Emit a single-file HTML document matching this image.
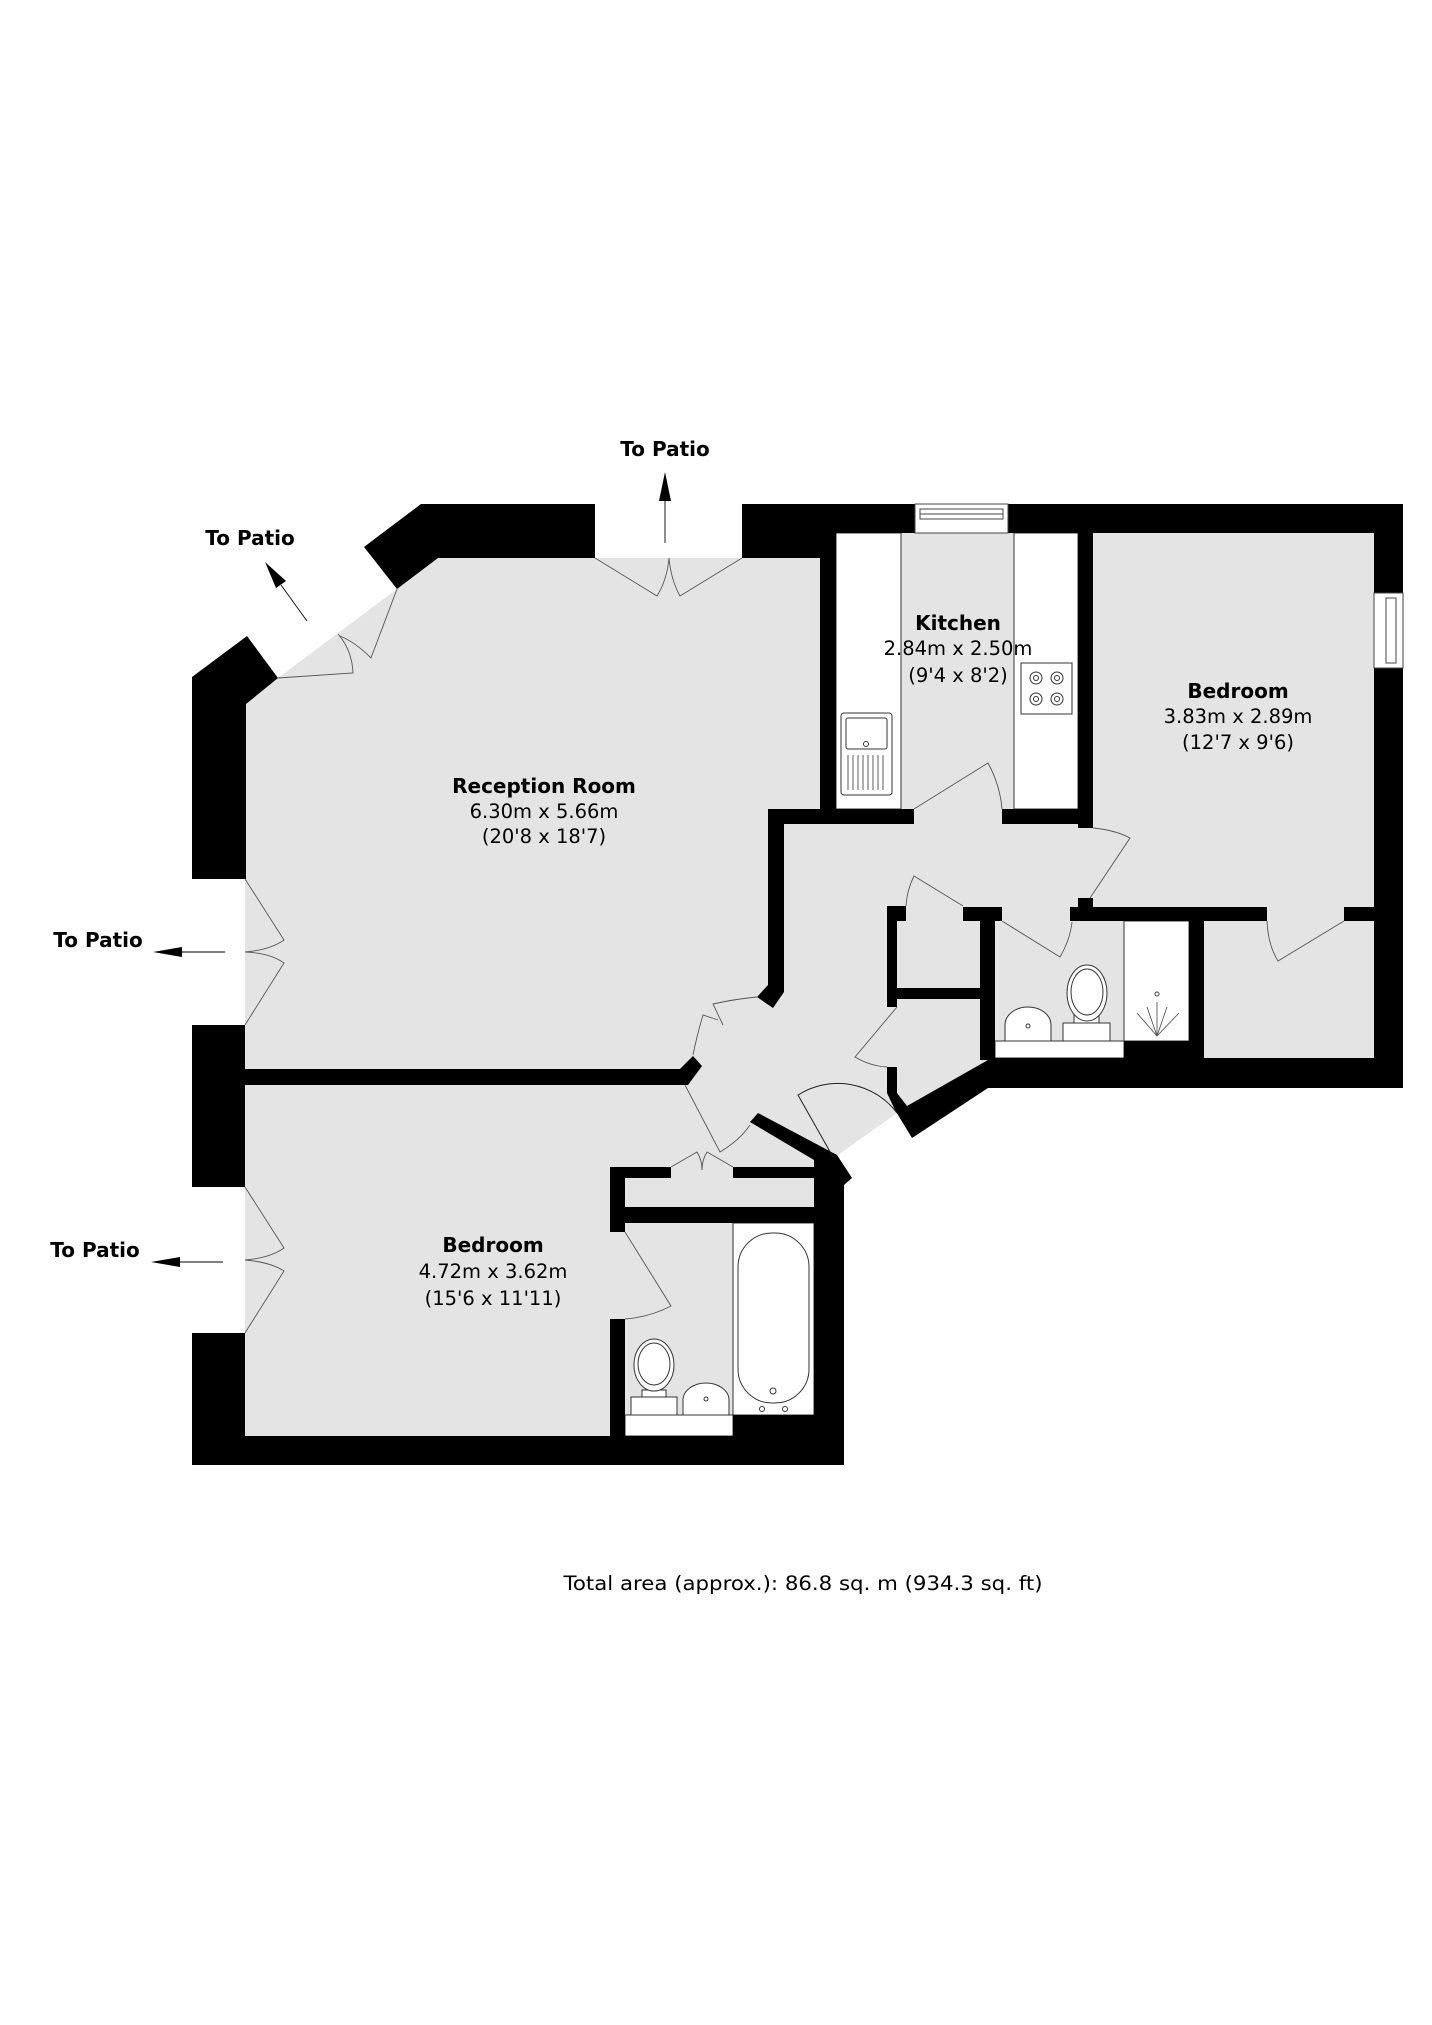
<!DOCTYPE html>
<html><head><meta charset="utf-8"><style>
html,body{margin:0;padding:0;background:#fff;}
svg{display:block;}
text{font-family:"DejaVu Sans","Liberation Sans",sans-serif;fill:#000;}
.b{font-weight:bold;font-size:20px;}
.r{font-size:19.5px;}
.d{fill:none;stroke:#555;stroke-width:0.9;}
.f{fill:#fff;stroke:#333;stroke-width:1;}
</style></head><body>
<svg width="1432" height="2025" viewBox="0 0 1432 2025" xmlns="http://www.w3.org/2000/svg">
<rect width="1432" height="2025" fill="#fff"/>
<!-- floor -->
<polygon fill="#e4e4e4" points="246,704 278,678 397,589 438,558 821,558 821,533 1374,533 1374,1058 988,1060 897,1113 838,1155 844,1178 844,1436 245,1436 245,704"/>
<!-- white fixtures -->
<rect class="f" x="836" y="533" width="65" height="276"/>
<rect class="f" x="1014" y="533" width="64" height="276"/>
<rect class="f" x="1124" y="921" width="65" height="120"/>
<rect class="f" x="995" y="1041" width="129" height="17"/>
<rect class="f" x="625" y="1415" width="108" height="21"/>
<rect class="f" x="733" y="1223" width="81" height="192"/>
<!-- walls -->
<g fill="#000">
<polygon points="364,547 421,504 595,504 595,558 438,558 397,589"/>
<polygon points="192,677 247,636 278,678 246,704 246,879 192,879"/>
<rect x="192" y="1025" width="53" height="162"/>
<rect x="192" y="1333" width="53" height="132"/>
<rect x="192" y="1436" width="652" height="29"/>
<polygon points="245,1069 680,1069 693,1056 702,1066 688,1085 245,1085"/>
<rect x="742" y="504" width="661" height="29"/>
<rect x="742" y="504" width="94" height="54"/>
<rect x="820" y="504" width="16" height="320"/>
<rect x="1374" y="504" width="29" height="584"/>
<rect x="988" y="1058" width="415" height="30"/>
<rect x="1078" y="533" width="15" height="295"/>
<rect x="768" y="809" width="146" height="15"/>
<rect x="1002" y="809" width="91" height="15"/>
<polygon points="768,809 784,809 784,992 773,1008 757,997 768,985"/>
<rect x="1078" y="898" width="15" height="12"/>
<rect x="1070" y="907" width="197" height="14"/>
<rect x="1344" y="907" width="30" height="14"/>
<rect x="887" y="906" width="19" height="15"/>
<rect x="887" y="906" width="10" height="101"/>
<rect x="897" y="988" width="83" height="11"/>
<rect x="963" y="907" width="39" height="14"/>
<rect x="980" y="907" width="15" height="153"/>
<rect x="1189" y="921" width="15" height="137"/>
<rect x="1124" y="1041" width="65" height="17"/>
<polygon points="887,1067 897,1067 897,1093 907,1106 988,1060 988,1088 912,1138 895,1110 887,1093"/>
<polygon points="750,1122 758,1113 837,1155 852,1178 844,1185 844,1465 814,1465 814,1160"/>
<rect x="610" y="1167" width="61" height="11"/>
<rect x="733" y="1167" width="81" height="11"/>
<rect x="610" y="1167" width="15" height="65"/>
<rect x="610" y="1207" width="204" height="16"/>
<rect x="610" y="1319" width="15" height="117"/>
<rect x="733" y="1415" width="81" height="21"/>
</g>
<!-- windows -->
<rect x="915" y="504" width="93" height="29" fill="#fff" stroke="#444" stroke-width="1"/>
<rect x="920" y="509" width="83" height="10" fill="none" stroke="#444" stroke-width="1"/>
<line x1="920" y1="514" x2="1003" y2="514" stroke="#444"/>
<rect x="1374" y="593" width="29" height="75" fill="#fff" stroke="#444" stroke-width="1"/>
<rect x="1386" y="598" width="10" height="65" fill="none" stroke="#444" stroke-width="1"/>
<!-- doors -->
<path class="d" d="M595 558 L657 596 Q667 580 669 558 M742 558 L680 596 Q671 580 669 558"/>
<path class="d" d="M278 678 L353 673 Q352 650 338 634 M397 589 L371 658 Q355 642 340 636"/>
<path class="d" d="M245 879 L284 940 Q270 950 245 952 M245 1025 L284 963 Q270 953 245 952"/>
<path class="d" d="M245 1187 L284 1248 Q270 1258 245 1260 M245 1333 L284 1271 Q270 1262 245 1260"/>
<path class="d" d="M914 809 L988 763 Q1000 785 1002 809"/>
<path class="d" d="M1093 828 Q1115 830 1130 838 L1090 898"/>
<path class="d" d="M963 906 L914 876 Q907 890 906 906"/>
<path class="d" d="M1002 921 L1060 957 Q1070 940 1072 922"/>
<path class="d" d="M897 1007 L855 1057 Q870 1066 887 1067"/>
<path class="d" d="M1344 921 L1278 961 Q1268 945 1267 921"/>
<path d="M833 1157 L798 1095 A74 74 0 0 1 897 1113" fill="none" stroke="#222" stroke-width="1"/>
<path class="d" d="M757 997 Q735 999 713 1004 L723 1025 M693 1055 Q697 1035 703 1015 L718 1020"/>
<path class="d" d="M685 1085 L720 1152 Q740 1140 750 1125"/>
<path class="d" d="M671 1167 L697 1152 Q702 1160 702 1170 M733 1167 L707 1152 Q702 1160 702 1170"/>
<path class="d" d="M625 1232 L671 1306 Q650 1317 625 1319"/>
<!-- kitchen fixtures -->
<rect x="841" y="713" width="51" height="82" rx="3" fill="#fff" stroke="#333"/>
<rect x="846" y="718" width="41" height="31" rx="2" fill="none" stroke="#333"/>
<circle cx="866" cy="744" r="2.5" fill="none" stroke="#333"/>
<g stroke="#333" stroke-width="0.8"><line x1="848" y1="755" x2="848" y2="790"/><line x1="853" y1="755" x2="853" y2="790"/><line x1="858" y1="755" x2="858" y2="790"/><line x1="863" y1="755" x2="863" y2="790"/><line x1="868" y1="755" x2="868" y2="790"/><line x1="873" y1="755" x2="873" y2="790"/><line x1="878" y1="755" x2="878" y2="790"/><line x1="883" y1="755" x2="883" y2="790"/></g>
<rect x="1021" y="663" width="51" height="51" fill="#fff" stroke="#333"/>
<g fill="none" stroke="#333"><circle cx="1036" cy="678" r="6"/><circle cx="1057" cy="678" r="6"/><circle cx="1036" cy="699" r="6"/><circle cx="1057" cy="699" r="6"/><circle cx="1036" cy="678" r="2.5"/><circle cx="1057" cy="678" r="2.5"/><circle cx="1036" cy="699" r="2.5"/><circle cx="1057" cy="699" r="2.5"/></g>
<!-- WC east -->
<rect x="1063" y="1023" width="47" height="18" fill="#fff" stroke="#333"/>
<rect x="1074" y="1015" width="25" height="8" fill="#fff" stroke="#333"/>
<ellipse cx="1087" cy="993" rx="20" ry="28" fill="#fff" stroke="#333"/>
<ellipse cx="1087" cy="992" rx="16" ry="23" fill="none" stroke="#333"/>
<path d="M1005 1041 L1005 1025 A23 18 0 0 1 1051 1025 L1051 1041 Z" fill="#fff" stroke="#333"/>
<circle cx="1028" cy="1026" r="2" fill="none" stroke="#333"/>
<g stroke="#444" stroke-width="0.8"><line x1="1157" y1="1036" x2="1137" y2="1013"/><line x1="1157" y1="1036" x2="1147" y2="1007"/><line x1="1157" y1="1036" x2="1157" y2="1002"/><line x1="1157" y1="1036" x2="1167" y2="1007"/><line x1="1157" y1="1036" x2="1179" y2="1013"/></g>
<circle cx="1157" cy="994" r="2" fill="none" stroke="#444"/>
<!-- ensuite -->
<rect x="738" y="1233" width="71" height="170" rx="34" fill="#fff" stroke="#333"/>
<circle cx="773" cy="1391" r="3" fill="none" stroke="#333"/>
<circle cx="762" cy="1409" r="2.5" fill="none" stroke="#333"/><circle cx="785" cy="1409" r="2.5" fill="none" stroke="#333"/>
<rect x="631" y="1397" width="46" height="18" fill="#fff" stroke="#333"/>
<rect x="642" y="1390" width="24" height="7" fill="#fff" stroke="#333"/>
<ellipse cx="654" cy="1365" rx="20" ry="26" fill="#fff" stroke="#333"/>
<ellipse cx="654" cy="1364" rx="16" ry="21" fill="none" stroke="#333"/>
<path d="M683 1415 L683 1400 A23 17 0 0 1 729 1400 L729 1415 Z" fill="#fff" stroke="#333"/>
<circle cx="706" cy="1399" r="2" fill="none" stroke="#333"/>
<!-- arrows -->
<g stroke="#000" stroke-width="0.9">
<line x1="665" y1="543" x2="665" y2="500"/>
<line x1="307" y1="621" x2="281" y2="585"/>
<line x1="225" y1="952" x2="182" y2="952"/>
<line x1="223" y1="1262" x2="180" y2="1262"/>
</g>
<g fill="#000">
<polygon points="665,472 659,501 671,501"/>
<polygon points="265,562 276,588 286,581"/>
<polygon points="153,952 182,947 182,957"/>
<polygon points="151,1262 180,1257 180,1267"/>
</g>
<!-- labels -->
<text class="b" x="665" y="456" text-anchor="middle">To Patio</text>
<text class="b" x="250" y="545" text-anchor="middle">To Patio</text>
<text class="b" x="98" y="947" text-anchor="middle">To Patio</text>
<text class="b" x="95" y="1257" text-anchor="middle">To Patio</text>
<g text-anchor="middle">
<text class="b" x="544" y="793">Reception Room</text>
<text class="r" x="544" y="818">6.30m x 5.66m</text>
<text class="r" x="544" y="843">(20'8 x 18'7)</text>
<text class="b" x="958" y="630">Kitchen</text>
<text class="r" x="958" y="655">2.84m x 2.50m</text>
<text class="r" x="958" y="682">(9'4 x 8'2)</text>
<text class="b" x="1238" y="698">Bedroom</text>
<text class="r" x="1238" y="723">3.83m x 2.89m</text>
<text class="r" x="1238" y="749">(12'7 x 9'6)</text>
<text class="b" x="493" y="1252">Bedroom</text>
<text class="r" x="493" y="1278">4.72m x 3.62m</text>
<text class="r" x="493" y="1305">(15'6 x 11'11)</text>
<text class="r" x="803" y="1590" textLength="479" lengthAdjust="spacingAndGlyphs">Total area (approx.): 86.8 sq. m (934.3 sq. ft)</text>
</g>
</svg>
</body></html>
